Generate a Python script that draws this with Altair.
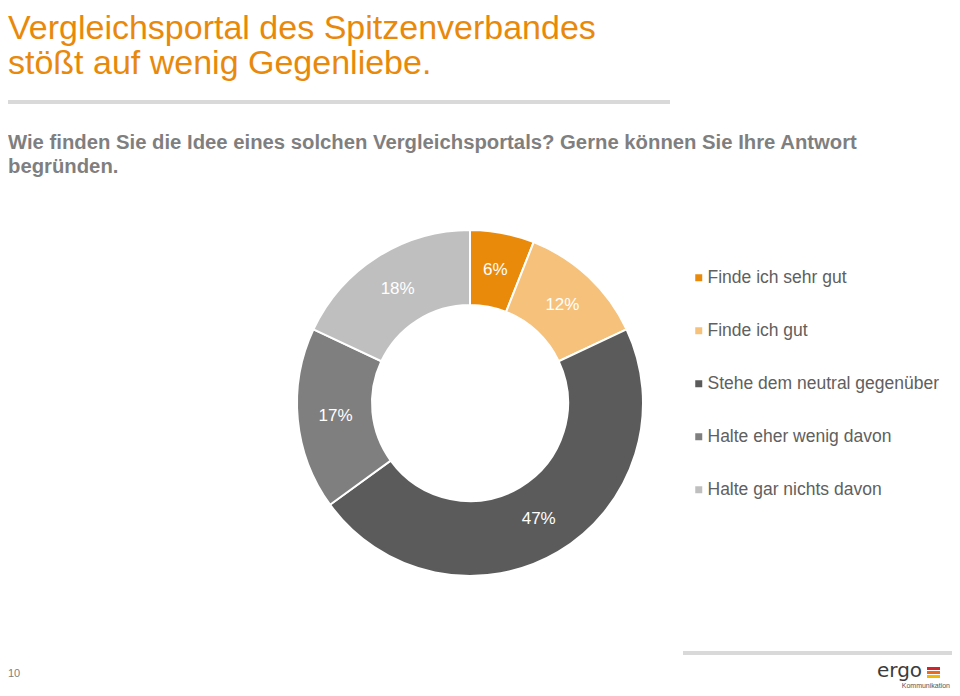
import altair as alt
import pandas as pd

# ---- data ----
categories = [
    "Finde ich sehr gut",
    "Finde ich gut",
    "Stehe dem neutral gegenüber",
    "Halte eher wenig davon",
    "Halte gar nichts davon",
]
values = [6, 12, 47, 17, 18]
colors = ["#EA8A0B", "#F6C17A", "#5B5B5B", "#7F7F7F", "#BFBFBF"]

title_lines = ["Vergleichsportal des Spitzenverbandes", "stößt auf wenig Gegenliebe."]
question_lines = [
    "Wie finden Sie die Idee eines solchen Vergleichsportals? Gerne können Sie Ihre Antwort",
    "begründen.",
]
page_number = ["10"]
logo_text = ["ergo", "Kommunikation"]
logo_dot_colors = ["#D2232A", "#EA6A1F", "#F2B705"]

FONT = "Liberation Sans"

df = pd.DataFrame({
    "cat": categories,
    "val": values,
    "idx": list(range(len(categories))),
    "label": [f"{v}%" for v in values],
})

CX, CY = 462, 395

arc = alt.Chart(df).mark_arc(
    innerRadius=98, outerRadius=173, stroke="white", strokeWidth=2
).encode(
    theta=alt.Theta("val:Q", stack=True),
    color=alt.Color(
        "cat:N",
        scale=alt.Scale(domain=categories, range=colors),
        sort=categories,
        legend=alt.Legend(
            title=None,
            orient="none",
            legendX=682,
            legendY=261,
            symbolType="square",
            symbolSize=49,
            symbolStrokeWidth=0,
            labelFontSize=17.5,
            labelFont=FONT,
            labelColor="#606060",
            labelOffset=0,
            rowPadding=34,
            padding=0,
            labelLimit=400,
        ),
    ),
    order=alt.Order("idx:Q"),
    x=alt.value(CX),
    y=alt.value(CY),
)

pct = alt.Chart(df).mark_text(
    radius=135, fontSize=17, font=FONT, color="white"
).encode(
    theta=alt.Theta("val:Q", stack=True),
    order=alt.Order("idx:Q"),
    text="label:N",
    x=alt.value(CX),
    y=alt.value(CY),
)


def txt(s, x, y, size, color, weight="normal", font=FONT, align="left"):
    return alt.Chart(pd.DataFrame({"t": [s]})).mark_text(
        align=align, baseline="alphabetic", fontSize=size, font=font,
        color=color, fontWeight=weight
    ).encode(text="t:N", x=alt.value(x), y=alt.value(y))


layers = [arc, pct]
layers.append(txt(title_lines[0], 0, 31, 34, "#E8890C"))
layers.append(txt(title_lines[1], 0, 66, 34, "#E8890C"))
layers.append(txt(question_lines[0], 0, 141, 20.3, "#7F7F7F", "bold"))
layers.append(txt(question_lines[1], 0, 165, 20.3, "#7F7F7F", "bold"))
layers.append(txt(page_number[0], 0, 669, 11, "#808080"))
layers.append(txt(logo_text[0], 869, 669, 20, "#3C3C3C", font="DejaVu Sans"))
layers.append(txt(logo_text[1], 942, 680, 7, "#555555", align="right"))

# decorative rules
top_rule = alt.Chart(pd.DataFrame({"a": [0]})).mark_rule(
    color="#D9D9D9", strokeWidth=4
).encode(x=alt.value(0), x2=alt.value(662), y=alt.value(94))
bottom_rule = alt.Chart(pd.DataFrame({"a": [0]})).mark_rule(
    color="#D9D9D9", strokeWidth=4
).encode(x=alt.value(675), x2=alt.value(944), y=alt.value(645))
layers += [top_rule, bottom_rule]

# logo dots
for i, c in enumerate(logo_dot_colors):
    layers.append(
        alt.Chart(pd.DataFrame({"a": [0]})).mark_rect(color=c).encode(
            x=alt.value(919), x2=alt.value(932),
            y=alt.value(659 + i * 4), y2=alt.value(662 + i * 4),
        )
    )

chart = alt.layer(*layers).properties(
    width=944, height=680, padding=0, autosize="none"
).configure_view(stroke=None)

chart.save("out.html", embed_options={"renderer": "svg", "actions": False})
